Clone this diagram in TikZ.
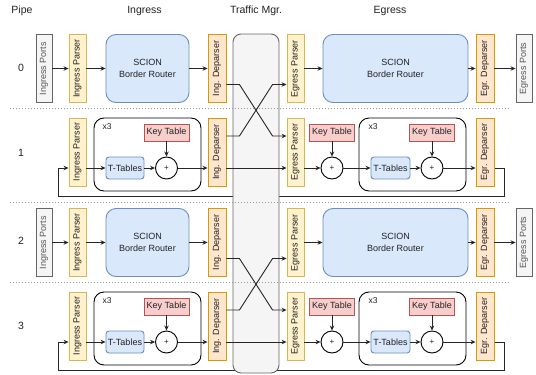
\documentclass[tikz,border=0pt]{standalone}
\usepackage{fontspec}
\setmainfont{Liberation Sans}
\usetikzlibrary{arrows.meta,calc}
\pgfdeclarelayer{back}
\pgfdeclarelayer{mid}
\pgfsetlayers{back,mid,main}

\definecolor{portfill}{HTML}{F5F5F5}
\definecolor{portline}{HTML}{666666}
\definecolor{parsefill}{HTML}{FFF2CC}
\definecolor{parseline}{HTML}{D6B656}
\definecolor{deparfill}{HTML}{FFE6CC}
\definecolor{deparline}{HTML}{D79B00}
\definecolor{brfill}{HTML}{DAE8FC}
\definecolor{brline}{HTML}{6C8EBF}
\definecolor{keyfill}{HTML}{F8CECC}
\definecolor{keyline}{HTML}{B85450}
\definecolor{txt}{HTML}{222222}
\definecolor{porttxt}{HTML}{555555}
\definecolor{sepline}{HTML}{999999}

\tikzset{
  base/.style={inner sep=0pt, line width=0.9pt, text=txt,
    font=\fontsize{9}{12}\selectfont, align=center},
  vbox/.style={base, draw, minimum width=#1, minimum height=68pt},
  portbox/.style={vbox=16pt, fill=portfill, draw=portline, text=porttxt},
  parsebox/.style={vbox=17pt, fill=parsefill, draw=parseline},
  deparbox/.style={vbox=18pt, fill=deparfill, draw=deparline},
  brbox/.style={base, draw=brline, fill=brfill, rounded corners=10pt,
    minimum height=68pt},
  keybox/.style={base, draw=keyline, fill=keyfill, minimum width=45pt,
    minimum height=17pt},
  ttbox/.style={base, draw=brline, fill=brfill, rounded corners=3pt,
    minimum width=38pt, minimum height=22pt},
  plusnode/.style={base, circle, draw=black, fill=white, minimum size=22pt,
    font=\fontsize{8}{8}\selectfont},
  loopbox/.style={draw=black, line width=0.9pt, rounded corners=10pt,
    minimum width=107pt, minimum height=73pt, inner sep=0pt},
  looplabel/.style={inner sep=0pt, text=txt, font=\fontsize{8.5}{10}\selectfont},
  tmbox/.style={draw=portline, fill=portfill, line width=0.9pt,
    rounded corners=8pt, inner sep=0pt},
  head/.style={inner sep=0pt, text=txt, font=\fontsize{10.5}{12}\selectfont},
  arr/.style={-{Stealth[length=5pt,width=4.5pt]}, line width=0.9pt, draw=black!85},
  wire/.style={line width=0.9pt, draw=black!85},
  sep/.style={draw=sepline, line width=0.9pt, dash pattern=on 1pt off 2pt}
}

\begin{document}
\begin{tikzpicture}[x=1pt,y=-1pt]
\useasboundingbox (0,0) rectangle (536,375);

% column headings
\node[head] (hpipe) at (22,11) {Pipe};
\node[head] (hing) at (144.5,11) {Ingress};
\node[head] (htm) at (256,11) {Traffic Mgr.};
\node[head] (hegr) at (390,11) {Egress};

% pipe numbers
\foreach \n/\y in {0/68,1/153,2/241,3/326}
  \node[head] (num\n) at (21,\y) {\n};

% traffic manager
\begin{pgfonlayer}{mid}
  \node[tmbox, minimum width=46pt, minimum height=339pt] (tm) at (256,203.5) {};
\end{pgfonlayer}

% separators between pipes
\draw[sep] (10,108) -- (510,108);
\draw[sep] (10,202) -- (510,202);
\draw[sep] (10,282) -- (510,282);

\foreach \o/\a/\b in {0/0/1,174/2/3}{
  % pipe with the plain border router
  \node[portbox] (ip\a) at (44,68.5+\o) {\rotatebox{90}{Ingress Ports}};
  \node[parsebox] (ipa\a) at (77.5,68.5+\o) {\rotatebox{90}{Ingress Parser}};
  \node[brbox, minimum width=83pt] (br\a) at (147.5,68.5+\o) {SCION\\Border Router};
  \node[deparbox] (id\a) at (217,68.5+\o) {\rotatebox{90}{Ing. Deparser}};
  \node[parsebox] (ep\a) at (295.5,68.5+\o) {\rotatebox{90}{Egress Parser}};
  \node[brbox, minimum width=145pt] (ebr\a) at (395.5,68.5+\o) {SCION\\Border Router};
  \node[deparbox] (ed\a) at (485,68.5+\o) {\rotatebox{90}{Egr. Deparser}};
  \node[portbox] (eo\a) at (524,68.5+\o) {\rotatebox{90}{Egress Ports}};

  \draw[arr] (ip\a) -- (ipa\a);
  \draw[arr] (ipa\a) -- (br\a);
  \draw[arr] (br\a) -- (id\a);
  \draw[arr] (ep\a) -- (ebr\a);
  \draw[arr] (ebr\a) -- (ed\a);
  \draw[arr] (ed\a) -- (eo\a);

  % pipe with the repeated key/table rounds
  \node[loopbox] (lp\b) at (147.5,154.5+\o) {};
  \node[looplabel] (xl\b) at (107,127+\o) {x3};
  \node[parsebox] (ipa\b) at (77.5,152+\o) {\rotatebox{90}{Ingress Parser}};
  \node[keybox] (kt\b) at (166.5,132.5+\o) {Key Table};
  \node[ttbox] (tt\b) at (125,168+\o) {T-Tables};
  \node[plusnode] (pl\b) at (166.5,168+\o) {+};
  \node[deparbox] (id\b) at (217,152+\o) {\rotatebox{90}{Ing. Deparser}};

  \node[parsebox] (ep\b) at (295.5,152+\o) {\rotatebox{90}{Egress Parser}};
  \node[keybox] (ekta\b) at (332,132.5+\o) {Key Table};
  \node[plusnode] (epla\b) at (332,168+\o) {+};
  \node[loopbox] (elp\b) at (412.5,154.5+\o) {};
  \node[looplabel] (exl\b) at (373,127+\o) {x3};
  \node[keybox] (ektb\b) at (432,132.5+\o) {Key Table};
  \node[ttbox, minimum width=39pt] (ett\b) at (390.5,168+\o) {T-Tables};
  \node[plusnode] (eplb\b) at (432,168+\o) {+};
  \node[deparbox] (ed\b) at (485,152+\o) {\rotatebox{90}{Egr. Deparser}};

  \draw[arr] (ipa\b.east |- tt\b) -- (tt\b);
  \draw[arr] (tt\b) -- (pl\b);
  \draw[arr] (kt\b) -- (pl\b);
  \draw[arr] (pl\b) -- (id\b.west |- pl\b);
  \draw[arr] (id\b.east |- pl\b) -- (ep\b.west |- pl\b);
  \draw[arr] (ep\b.east |- epla\b) -- (epla\b);
  \draw[arr] (ekta\b) -- (epla\b);
  \draw[arr] (epla\b) -- (ett\b);
  \draw[arr] (ett\b) -- (eplb\b);
  \draw[arr] (ektb\b) -- (eplb\b);
  \draw[arr] (eplb\b) -- (ed\b.west |- eplb\b);

  % crossings through the traffic manager
  \draw[arr] ([yshift=-16pt]id\a.east) -- ++(13,0)
    -- ([xshift=-14pt,yshift=16pt]ep\b.west) -- ([yshift=16pt]ep\b.west);
  \draw[arr] ([yshift=16pt]id\b.east) -- ++(13,0)
    -- ([xshift=-14pt,yshift=-16pt]ep\a.west) -- ([yshift=-16pt]ep\a.west);

  % recirculation back to the ingress parser
  \begin{pgfonlayer}{back}
    \draw[arr] (ed\b.east |- eplb\b) -| (504,196+\o) -| (58,168+\o)
      -- (ipa\b.west |- pl\b);
  \end{pgfonlayer}
}
\end{tikzpicture}
\end{document}
